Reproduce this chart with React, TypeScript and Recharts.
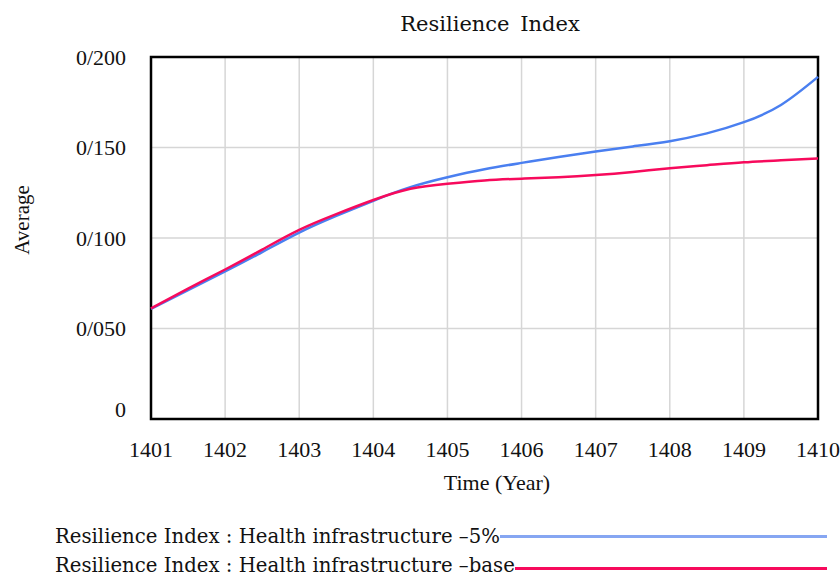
import {
  CartesianGrid,
  Legend,
  Line,
  LineChart,
  ReferenceArea,
  XAxis,
  YAxis,
} from 'recharts';

const FONT = '"Liberation Serif", "Times New Roman", serif';
const WIDE = '"DejaVu Serif", serif';

const time = [
  1401, 1401.5, 1402, 1402.5, 1403, 1403.5, 1404, 1404.5, 1405, 1405.5,
  1406, 1406.5, 1407, 1407.5, 1408, 1408.5, 1409, 1409.5, 1410,
];
const minus5 = [
  0.0608, 0.0712, 0.0815, 0.0922, 0.103, 0.1122, 0.1206, 0.1281, 0.1336, 0.138,
  0.1415, 0.1448, 0.1478, 0.1506, 0.1535, 0.1578, 0.164, 0.1735, 0.189,
];
const base = [
  0.0611, 0.072, 0.0826, 0.0936, 0.1045, 0.1132, 0.121, 0.1272, 0.13, 0.1318,
  0.1328, 0.1336, 0.1348, 0.1365, 0.1385, 0.1402, 0.1418, 0.1429, 0.144,
];

const xTicks = [1401, 1402, 1403, 1404, 1405, 1406, 1407, 1408, 1409, 1410];
const yTicks = [0, 0.05, 0.1, 0.15, 0.2];
const yTickLabels = ['0', '0/050', '0/100', '0/150', '0/200'];

const seriesNames = [
  'Resilience Index : Health infrastructure \u20135%',
  'Resilience Index : Health infrastructure \u2013base',
];
const colors = { minus5: '#4a7ff0', base: '#f70a5c' };
const legendColors = ['#86a6f2', '#f70a5c'];

const data = time.map((t, i) => ({ t, minus5: minus5[i], base: base[i] }));

function YTick({ x, y, payload }: any) {
  const idx = yTicks.indexOf(payload.value);
  const shift = payload.value === 0 ? -10 : 0;
  return (
    <text x={x} y={y + shift} dy="0.355em" textAnchor="end" fill="#111" fontSize={22} fontFamily={FONT}>
      {yTickLabels[idx]}
    </text>
  );
}

function LegendBox() {
  return (
    <div style={{ fontFamily: WIDE, fontSize: 19.7, color: '#111', lineHeight: '24px' }}>
      {seriesNames.map((name, i) => (
        <div key={name} style={{ display: 'flex', alignItems: 'center', height: 29 }}>
          <span style={{ whiteSpace: 'nowrap' }}>{name}</span>
          <div style={{ flex: 1, height: 3, background: legendColors[i], marginTop: i === 1 ? 6 : 0 }} />
        </div>
      ))}
    </div>
  );
}

export default function App() {
  return (
    <div style={{ position: 'absolute', left: 0, top: 0, width: 840, height: 576, background: '#fff' }}>
      <div
        style={{
          position: 'absolute',
          left: 0,
          width: 980,
          top: 10,
          textAlign: 'center',
          fontFamily: WIDE,
          fontSize: 21,
          wordSpacing: 4,
          color: '#111',
          lineHeight: '28px',
        }}
      >
        Resilience Index
      </div>
      <LineChart width={840} height={576} data={data} margin={{ top: 57, right: 22, bottom: 97, left: 0 }}>
        <CartesianGrid stroke="#d6d6d6" strokeWidth={1.5} />
        <XAxis
          dataKey="t"
          type="number"
          domain={[1401, 1410]}
          ticks={xTicks}
          height={60}
          tickSize={0}
          tickMargin={22}
          axisLine={false}
          tick={{ fill: '#111', fontSize: 22, fontFamily: FONT }}
          label={{
            content: () => (
              <text x={497} y={482} dy="0.35em" textAnchor="middle" fill="#111" fontSize={22} fontFamily={FONT}>
                Time (Year)
              </text>
            ),
          }}
        />
        <YAxis
          type="number"
          domain={[0, 0.2]}
          ticks={yTicks}
          width={151}
          tickSize={0}
          tickMargin={25}
          axisLine={false}
          tick={<YTick />}
          label={{
            content: () => (
              <text
                transform="translate(22,220) rotate(-90)"
                dy="0.35em"
                textAnchor="middle"
                fill="#111"
                fontSize={21}
                fontFamily={FONT}
              >
                Average
              </text>
            ),
          }}
        />
        <ReferenceArea x1={1401} x2={1410} y1={0} y2={0.2} fill="none" fillOpacity={0} stroke="#000" strokeWidth={2.5} />
        <Line
          type="natural"
          dataKey="minus5"
          stroke={colors.minus5}
          strokeWidth={2.5}
          dot={false}
          isAnimationActive={false}
        />
        <Line
          type="natural"
          dataKey="base"
          stroke={colors.base}
          strokeWidth={2.5}
          dot={false}
          isAnimationActive={false}
        />
        <Legend
          layout="horizontal"
          verticalAlign="middle"
          align="center"
          wrapperStyle={{ left: 55, top: 522, width: 772 }}
          content={() => <LegendBox />}
        />
      </LineChart>
    </div>
  );
}
